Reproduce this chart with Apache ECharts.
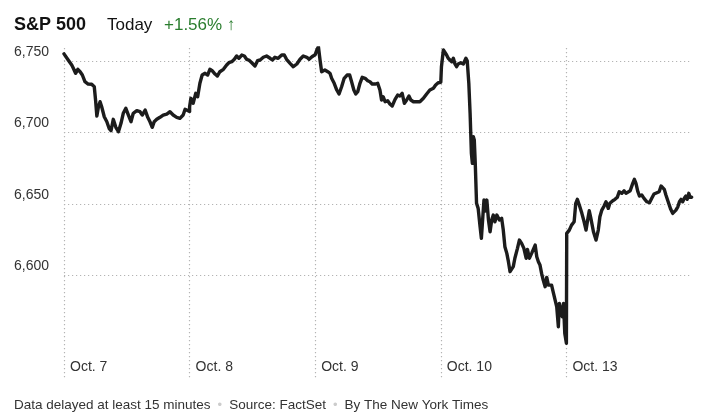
<!DOCTYPE html>
<html><head><meta charset="utf-8">
<script src="https://cdn.jsdelivr.net/npm/echarts@6/dist/echarts.min.js"></script>
<style>html,body{margin:0;padding:0;background:#fff}#c{width:720px;height:416px}</style>
</head><body><div id="c"></div>
<script>
// Trading days shown on the x axis
const dayLabels = ['Oct. 7', 'Oct. 8', 'Oct. 9', 'Oct. 10', 'Oct. 13'];
// Y tick values
const yTicks = [6600, 6650, 6700, 6750];

// Minutes after the 9:30 open (0..390) and index level, per day
const oct7Min = [0,3,13,24,29,36,43,50,57,65,75,86,94,98,102,107,112,117,125,133,140,146,153,161,169,177,184,192,200,208,215,226,236,243,252,260,267,274,280,288,298,308,319,329,339,350,360,370,376,390];
const oct7Val = [6755,6754.2,6750.7,6747.2,6744.9,6741.4,6744.2,6742.5,6740.2,6735.5,6733.9,6733.7,6732,6722.7,6711.5,6718,6721.5,6718,6711,6707.5,6702.9,6701.2,6709.2,6703.6,6700.5,6706.4,6713.4,6716.9,6712.2,6707.5,6713.4,6715.2,6714.5,6712.2,6715.7,6710.6,6707.5,6703.6,6707.5,6709.2,6710.6,6712.2,6712.9,6714.5,6712.2,6710.6,6709.9,6712.2,6716.2,6714.6];

const oct8Min = [0,4,11,19,25,32,39,48,56,63,70,79,86,94,105,115,122,131,139,146,153,162,170,177,184,193,203,211,219,229,239,250,257,265,275,286,294,301,312,322,333,343,353,364,371,380,390];
const oct8Val = [6718,6723.9,6720.4,6727.4,6725,6734.4,6740.2,6741.4,6740.2,6744.2,6743.2,6740.9,6739.5,6742.5,6744.2,6747.2,6748.8,6749.5,6751.2,6753.5,6751.9,6754.2,6753.5,6751.2,6750.7,6748.8,6746.5,6750.2,6750.7,6752.6,6753.5,6751.9,6750.7,6752.6,6751.9,6754.2,6754.2,6751.2,6748.4,6746,6747.9,6751.2,6753.5,6752.6,6751.2,6753,6754.5];

const oct9Min = [0,5,10,15,20,30,39,46,51,59,67,74,82,90,99,107,113,120,126,132,139,146,155,163,170,177,186,194,201,206,211,217,225,232,239,248,256,263,270,277,284,291,297,305,315,325,336,346,356,367,374,382,390];
const oct9Val = [6755,6757.7,6760,6750.7,6742.5,6743.7,6742.5,6741.4,6737.9,6734.4,6729.7,6726.9,6732,6737.9,6740.2,6740.2,6735.5,6729.7,6726.9,6728.5,6734.4,6738.6,6737.9,6736.2,6735.5,6733.9,6733.9,6734.4,6729.7,6722.7,6725,6721.5,6722.2,6719.9,6718.5,6723.2,6726.2,6725.5,6727.4,6720.4,6722.7,6725.5,6722.7,6721.5,6721.5,6721.5,6723.9,6726.9,6729.7,6730.9,6733.2,6734.8,6735.1];

const oct10Min = [2,8,13,18,23,29,34,39,44,49,54,62,70,78,82,87,91,95,98,101,104,107,111,116,122,126,130,134,138,143,148,153,158,163,168,174,182,189,194,199,205,210,215,220,225,230,238,244,251,258,265,269,275,282,287,293,298,303,308,313,318,324,329,334,339,344,350,355,360,365,368,373,377,381,385,390];
const oct10Val = [6746,6757.7,6758.9,6754.2,6751.9,6753,6749.5,6751.9,6747.9,6746,6747.9,6748.8,6747.9,6751.9,6750.2,6734.4,6713.4,6685.4,6678.4,6697,6694.7,6678.4,6650.4,6646.9,6634,6625.9,6625.9,6652.7,6645,6652.7,6638.7,6630.5,6638.7,6642.2,6637.5,6642.2,6638.7,6639.9,6631.7,6620.1,6615.4,6609.6,6602.6,6601.4,6606.1,6612,6618.9,6624.7,6622.4,6618.9,6612,6618.2,6612,6615.4,6615.4,6621.2,6613.1,6609.6,6607.2,6601.4,6596.7,6592.1,6598.6,6593.2,6592.1,6593.2,6587.4,6582.7,6578,6564.1,6580.4,6581.6,6571.1,6580.4,6559.4,6552.5];

const oct13Min = [1,9,16,24,29,34,40,48,55,61,66,71,76,84,92,99,104,110,117,123,130,135,144,151,158,164,172,179,185,191,198,206,211,216,222,227,234,241,250,258,265,272,281,288,294,299,304,309,316,324,330,335,340,346,351,356,361,366,371,375,380,384,389];
const oct13Val = [6629.4,6631.7,6635.2,6637.5,6650.4,6653.2,6649.2,6643.4,6637.5,6631.7,6638.7,6645.2,6639.9,6630.5,6624.7,6631.7,6641,6645.7,6648.5,6651.5,6646.9,6650.4,6652.2,6653.2,6654.6,6658.5,6657.4,6659.2,6657.4,6656.2,6659.2,6664.4,6667.2,6664.4,6658.5,6655.5,6656.2,6653.9,6651.5,6650.8,6653.9,6656.9,6657.8,6658.5,6662.5,6662.5,6660.2,6656.2,6651.5,6646.2,6643.4,6643.8,6645.7,6648,6651.5,6653.2,6651.5,6653.9,6655.5,6653.2,6657.4,6654.6,6654.7];

const days = [[oct7Min, oct7Val], [oct8Min, oct8Val], [oct9Min, oct9Val], [oct10Min, oct10Val], [oct13Min, oct13Val]];
const seriesData = [];
days.forEach(([mins, vals], d) => mins.forEach((m, i) => seriesData.push([d + m / 390, vals[i]])));

const FONT = '"Liberation Sans", Arial, sans-serif';
const chart = echarts.init(document.getElementById('c'), null, {renderer: 'canvas'});
chart.setOption({
  animation: false,
  backgroundColor: '#fff',
  title: [
    {text: 'S&P 500', left: 14, top: 16, padding: 0, textStyle: {fontFamily: FONT, fontSize: 18, fontWeight: 'bold', color: '#121212'}},
    {text: 'Today', left: 107, top: 17, padding: 0, textStyle: {fontFamily: FONT, fontSize: 17, fontWeight: 'normal', color: '#121212'}},
    {text: '+1.56% \u2191', left: 164, top: 17, padding: 0, textStyle: {fontFamily: FONT, fontSize: 17, fontWeight: 'normal', color: '#2a7d2e'}},
    {text: '{t|Data delayed at least 15 minutes}{d|\u2022}{t|Source: FactSet}{d|\u2022}{t|By The New York Times}',
     left: 14, top: 398, padding: 0,
     textStyle: {fontWeight: 'normal', rich: {
       t: {fontFamily: FONT, fontSize: 13.5, fontWeight: 'normal', color: '#333'},
       d: {fontFamily: FONT, fontSize: 13, fontWeight: 'normal', color: '#ccc', padding: [0, 7, 0, 7]}
     }}}
  ],
  grid: {left: 64, right: 28, top: 48, bottom: 38},
  xAxis: {
    type: 'value', min: 0, max: 5, interval: 1,
    axisLine: {show: false}, axisTick: {show: false},
    splitLine: {show: true, showMaxLine: false, lineStyle: {color: '#b4b4b4', type: [1.2, 2.8], width: 1.2}},
    axisLabel: {
      inside: true, margin: 4, align: 'left', verticalAlign: 'bottom', padding: [0, 0, 0, 6],
      fontFamily: FONT, fontSize: 14, color: '#333', showMaxLabel: false,
      formatter: v => dayLabels[Math.round(v)] || ''
    }
  },
  yAxis: {
    type: 'value', min: 6528.2, max: 6759.1,
    axisLine: {show: false},
    axisTick: {show: false, customValues: yTicks},
    splitLine: {show: true, lineStyle: {color: '#b4b4b4', type: [1.2, 2.8], width: 1.2}},
    axisLabel: {
      customValues: yTicks, margin: 50, align: 'left', verticalAlign: 'bottom', padding: [0, 0, 2, 0],
      fontFamily: FONT, fontSize: 14, color: '#333',
      formatter: v => v.toLocaleString('en-US')
    }
  },
  series: [{
    type: 'line', data: seriesData, showSymbol: false, smooth: false,
    lineStyle: {color: '#1c1c1c', width: 3.4, join: 'round', cap: 'round'}
  }]
});
</script></body></html>
